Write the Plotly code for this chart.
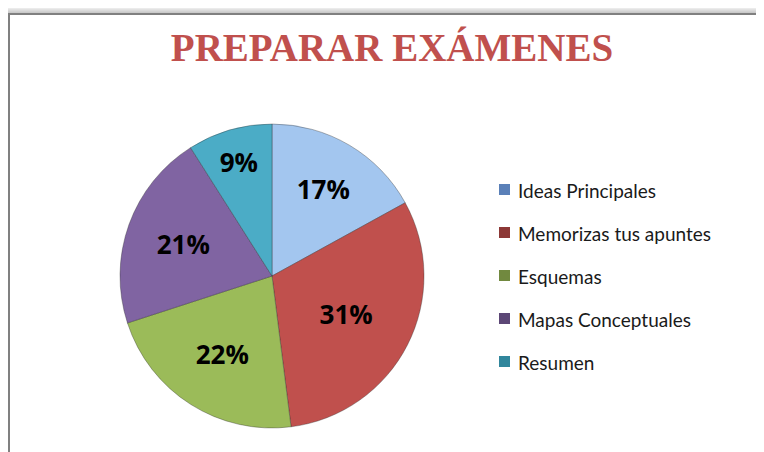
import plotly.graph_objects as go

# chart data
labels = ["Ideas Principales", "Memorizas tus apuntes", "Esquemas", "Mapas Conceptuales", "Resumen"]
values = [17, 31, 22, 21, 9]
colors = ["#a3c6ef", "#c0504d", "#9bbb59", "#8064a2", "#4bacc6"]
legend_colors = ["#5a80b8", "#8c3836", "#71893f", "#5c4776", "#31869c"]

# the page body adds an 8px offset, so the figure is a bit smaller than the window
OFF = 8
W, H = 764 - OFF, 452 - OFF

def px(x):
    return (x - OFF) / W

def py(y):
    return 1 - (y - OFF) / H

fig = go.Figure()

fig.add_trace(go.Pie(
    labels=labels, values=values,
    sort=False, direction="clockwise", rotation=0,
    marker=dict(colors=colors, line=dict(color="rgba(40,40,40,0.35)", width=1)),
    texttemplate="%{percent:.0%}",
    textposition="inside", insidetextorientation="horizontal",
    textfont=dict(family="Open Sans", size=26, color="black", weight="bold"),
    showlegend=False,
    domain=dict(x=[px(120), px(424)], y=[py(428), py(124)]),
))

shapes = []
# soft shadow round the chart frame (top)
for k in range(1, 7):
    shapes.append(dict(type="rect", xref="paper", yref="paper", layer="below",
                       x0=px(8), x1=1.05, y0=-0.05, y1=py(14 - k),
                       fillcolor="rgba(0,0,0,0.035)", line=dict(width=0)))
shapes.append(dict(type="rect", xref="paper", yref="paper", layer="below",
                   x0=px(9), x1=1.05, y0=-0.05, y1=py(14),
                   fillcolor="white", line=dict(color="#808080", width=2)))

annotations = []
# hand built legend so the rows get the wide spacing of the original
for i, lab in enumerate(labels):
    yc = 190 + 43 * i
    shapes.append(dict(type="rect", xref="paper", yref="paper",
                       x0=px(499), x1=px(510), y0=py(yc + 5), y1=py(yc - 6),
                       fillcolor=legend_colors[i], line=dict(width=0)))
    annotations.append(dict(text=lab, xref="paper", yref="paper",
                            x=px(516), y=py(yc), xanchor="left", yanchor="middle",
                            showarrow=False,
                            font=dict(family="Lato", size=19, color="#1a1a1a")))

fig.update_layout(
    width=W, height=H,
    margin=dict(l=0, r=0, t=0, b=0),
    paper_bgcolor="#f4f4f4",
    title=dict(text="PREPARAR EXÁMENES", x=px(392), xanchor="center",
               y=py(47), yanchor="middle",
               font=dict(family="Liberation Serif", size=39, color="#c0504d", weight="bold")),
    shapes=shapes,
    annotations=annotations,
)

fig.write_html("out.html")
